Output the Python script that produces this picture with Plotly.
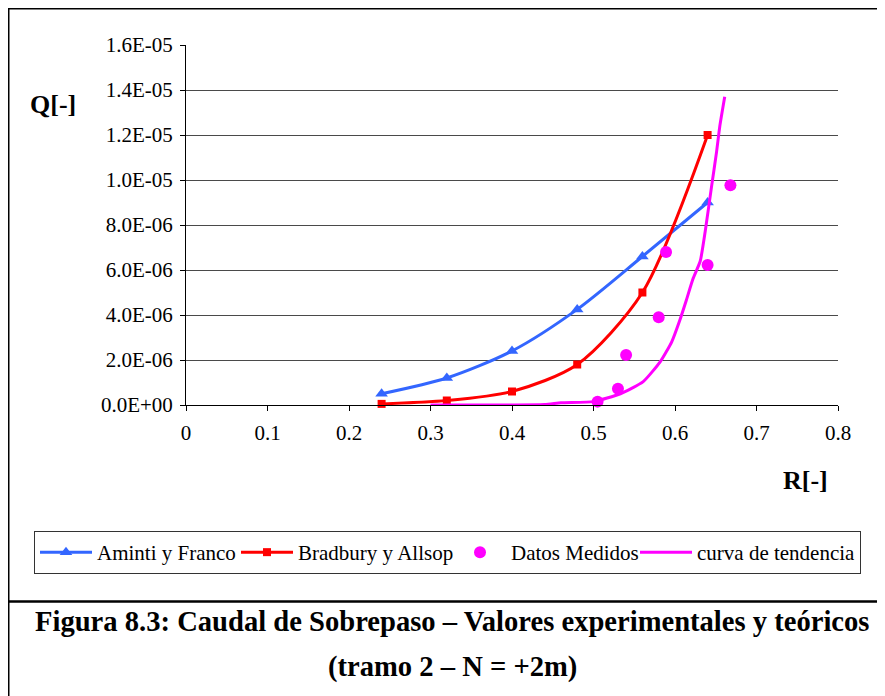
import plotly.graph_objects as go

# ---- data ----
R_model = [0.24, 0.32, 0.40, 0.48, 0.56, 0.64]
Q_aminti = [0.50e-6, 1.20e-6, 2.40e-6, 4.25e-6, 6.60e-6, 9.00e-6]
Q_bradbury = [0.05e-6, 0.20e-6, 0.60e-6, 1.80e-6, 5.00e-6, 12.00e-6]

R_meas = [0.505, 0.530, 0.540, 0.580, 0.589, 0.640, 0.668]
Q_meas = [0.15e-6, 0.72e-6, 2.22e-6, 3.90e-6, 6.80e-6, 6.22e-6, 9.77e-6]

R_trend = [0.300, 0.440, 0.460, 0.500, 0.533, 0.561, 0.582, 0.596, 0.606,
           0.614, 0.622, 0.631, 0.637, 0.645, 0.651, 0.655, 0.661]
Q_trend = [0.0, 0.02e-6, 0.10e-6, 0.15e-6, 0.50e-6, 1.04e-6, 1.93e-6, 2.81e-6,
           3.78e-6, 4.67e-6, 5.60e-6, 6.40e-6, 7.70e-6, 9.75e-6, 11.25e-6,
           12.40e-6, 13.70e-6]

x_tickvals = [0, 0.1, 0.2, 0.3, 0.4, 0.5, 0.6, 0.7, 0.8]
x_ticktext = ["0", "0.1", "0.2", "0.3", "0.4", "0.5", "0.6", "0.7", "0.8"]
y_tickvals = [0, 2e-6, 4e-6, 6e-6, 8e-6, 10e-6, 12e-6, 14e-6, 16e-6]
y_ticktext = ["0.0E+00", "2.0E-06", "4.0E-06", "6.0E-06", "8.0E-06",
              "1.0E-05", "1.2E-05", "1.4E-05", "1.6E-05"]

names = ["Aminti y Franco", "Bradbury y Allsop", "Datos Medidos", "curva de tendencia"]
caption1 = "Figura 8.3: Caudal de Sobrepaso \u2013 Valores experimentales y te\u00f3ricos"
caption2 = "(tramo 2 \u2013 N = +2m)"

# ---- layout geometry (page pixels; page body has an 8px margin) ----
OFF = 8
W, H = 885 - OFF, 696 - OFF
L, R, T, B = 186 - OFF, 838 - OFF, 45 - OFF, 405 - OFF
pw, ph = R - L, B - T


def px(x):
    return (x - OFF - L) / pw


def py(y):
    return (B - (y - OFF)) / ph


FONT = "Liberation Serif, Times New Roman, serif"

fig = go.Figure()
fig.add_trace(go.Scatter(
    x=R_model, y=Q_aminti, name=names[0], mode="lines+markers",
    line=dict(color="#3366FF", width=3, shape="spline", smoothing=0.8),
    marker=dict(symbol="triangle-up", size=11, color="#3366FF"),
    legendwidth=134, cliponaxis=False))
fig.add_trace(go.Scatter(
    x=R_model, y=Q_bradbury, name=names[1], mode="lines+markers",
    line=dict(color="#FF0000", width=3, shape="spline", smoothing=0.8),
    marker=dict(symbol="square", size=8, color="#FF0000"),
    legendwidth=146, cliponaxis=False))
fig.add_trace(go.Scatter(
    x=R_meas, y=Q_meas, name=names[2], mode="markers",
    marker=dict(symbol="circle", size=12, color="#FF00FF"),
    legendwidth=119, cliponaxis=False))
fig.add_trace(go.Scatter(
    x=R_trend, y=Q_trend, name=names[3], mode="lines",
    line=dict(color="#FF00FF", width=3, shape="spline", smoothing=0.5),
    legendwidth=158, cliponaxis=False))

fig.update_layout(
    width=W, height=H,
    margin=dict(l=L, r=W - R, t=T, b=H - B, pad=0),
    paper_bgcolor="white", plot_bgcolor="white",
    font=dict(family=FONT, size=21, color="black"),
    showlegend=True,
    legend=dict(
        orientation="h", x=px(34), y=py(531), xanchor="left", yanchor="top",
        bordercolor="#333333", borderwidth=1, bgcolor="white",
        font=dict(family=FONT, size=21, color="black"),
        itemwidth=52, tracegroupgap=0, itemclick=False,
    ),
    xaxis=dict(
        range=[0, 0.8], tickvals=x_tickvals, ticktext=x_ticktext,
        showgrid=False, zeroline=False, showline=True, linecolor="black",
        linewidth=1, ticks="outside", ticklen=5, tickcolor="black",
        ticklabelstandoff=4,
        tickfont=dict(family=FONT, size=21), fixedrange=True,
    ),
    yaxis=dict(
        range=[0, 1.6e-5], tickvals=y_tickvals, ticktext=y_ticktext,
        showgrid=True, gridcolor="#4a4a4a", gridwidth=1, zeroline=False,
        showline=True, linecolor="black", linewidth=1, ticks="outside",
        ticklen=5, tickcolor="black", ticklabelstandoff=3,
        tickfont=dict(family=FONT, size=21),
        fixedrange=True,
    ),
)

# outer frame and divider
fig.add_shape(type="rect", xref="paper", yref="paper",
              x0=px(8.5), x1=px(900), y0=py(8.5), y1=py(720),
              line=dict(color="black", width=2), layer="below")
fig.add_shape(type="line", xref="paper", yref="paper",
              x0=px(7), x1=px(900), y0=py(601.5), y1=py(601.5),
              line=dict(color="black", width=2.5))

# axis titles
fig.add_annotation(text="<b>Q[-]</b>", xref="paper", yref="paper",
                   x=px(53), y=py(104), showarrow=False,
                   xanchor="center", yanchor="middle",
                   font=dict(family=FONT, size=26, color="black"))
fig.add_annotation(text="<b>R[-]</b>", xref="paper", yref="paper",
                   x=px(805), y=py(481), showarrow=False,
                   xanchor="center", yanchor="middle",
                   font=dict(family=FONT, size=26, color="black"))

# captions
fig.add_annotation(text="<b>" + caption1 + "</b>", xref="paper", yref="paper",
                   x=px(452), y=py(621), showarrow=False,
                   xanchor="center", yanchor="middle",
                   font=dict(family=FONT, size=28.6, color="black"))
fig.add_annotation(text="<b>" + caption2 + "</b>", xref="paper", yref="paper",
                   x=px(452), y=py(667), showarrow=False,
                   xanchor="center", yanchor="middle",
                   font=dict(family=FONT, size=28.6, color="black"))

fig.write_html("out.html")
